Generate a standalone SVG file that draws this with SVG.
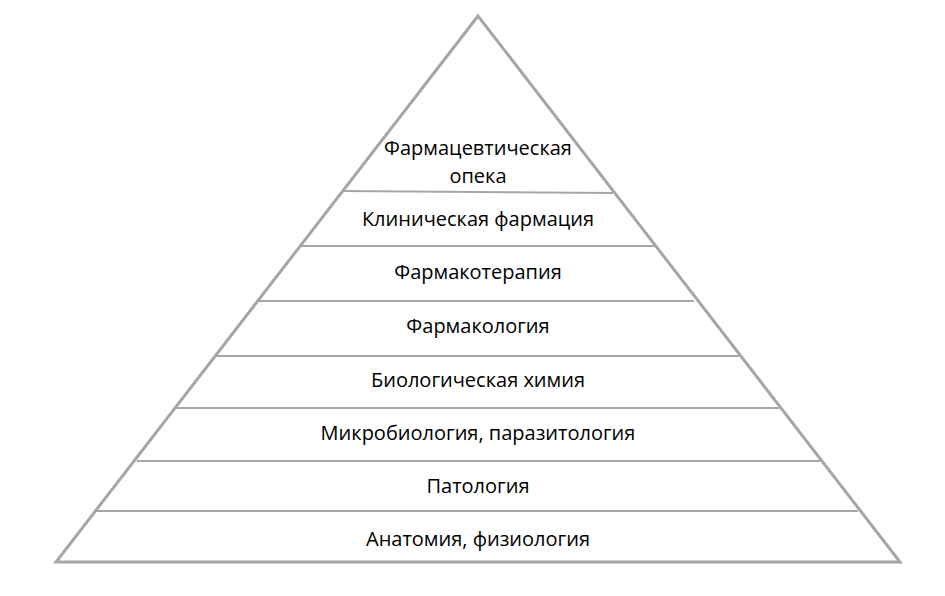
<svg xmlns="http://www.w3.org/2000/svg" width="945" height="596" viewBox="0 0 945 596">
<style>
.tri{fill:#fff;stroke:#a6a6a6;stroke-width:3;stroke-linejoin:miter}
.sep{stroke:#a6a6a6;stroke-width:2;fill:none}
.t{font-family:"Open Sans","Noto Sans","Liberation Sans",sans-serif;font-size:20px;fill:#000;text-anchor:middle}
</style>
<rect width="945" height="596" fill="#fff"/>
<g id="pyramid">
<polygon class="tri" points="478,16 56,562 900,562"/>
</g>
<g id="connectors">
<line class="sep" x1="344" y1="191" x2="613" y2="193"/>
<line class="sep" x1="301" y1="246" x2="655" y2="246"/>
<line class="sep" x1="259" y1="301" x2="694" y2="301"/>
<line class="sep" x1="216" y1="356" x2="739" y2="356"/>
<line class="sep" x1="176" y1="408" x2="779" y2="408"/>
<line class="sep" x1="137" y1="461" x2="820" y2="461"/>
<line class="sep" x1="96" y1="511" x2="858" y2="511"/>
</g>
<g id="level1"><text class="t" x="478" y="155">Фармацевтическая</text><text class="t" x="478" y="183">опека</text></g>
<g id="level2"><text class="t" x="478" y="226">Клиническая фармация</text></g>
<g id="level3"><text class="t" x="478" y="279">Фармакотерапия</text></g>
<g id="level4"><text class="t" x="478" y="333">Фармакология</text></g>
<g id="level5"><text class="t" x="478" y="387">Биологическая химия</text></g>
<g id="level6"><text class="t" x="478" y="440">Микробиология, паразитология</text></g>
<g id="level7"><text class="t" x="478" y="493">Патология</text></g>
<g id="level8"><text class="t" x="478" y="546">Анатомия, физиология</text></g>
</svg>
